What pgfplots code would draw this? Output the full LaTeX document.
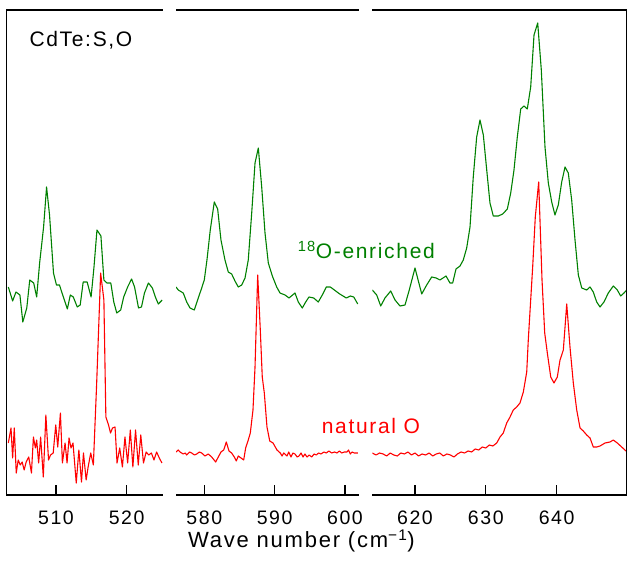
\documentclass[border=0pt]{standalone}
\usepackage{pgfplots}
\pgfplotsset{compat=1.18}
\usepackage{fontspec}
\setmainfont{Liberation Sans}[LetterSpace=8]
\definecolor{cgreen}{rgb}{0.0,0.5,0.0}
\definecolor{cred}{rgb}{1,0,0}
\newcommand\tickfont{\fontsize{19.5}{21}\selectfont}
\pgfplotsset{panel/.style={
  scale only axis, height=485pt, ymin=-1, ymax=484, ytick=\empty,
  anchor=south west, axis line style={draw=none}, clip mode=individual,
  xtick pos=bottom, tick align=inside, major tick length=10pt,
  xtick style={line width=1.2pt, black},
  xticklabel style={font=\tickfont, anchor=base, yshift=-29.5pt, inner sep=0pt},
  /pgf/number format/assume math mode=true,
  /pgf/number format/set thousands separator={},
  every axis plot/.append style={line width=1.1pt, no markers, line join=round},
}}
\begin{document}
\begin{tikzpicture}
\useasboundingbox (-6.7pt,-69pt) rectangle (630.3pt,495pt);
% panel 1
\begin{axis}[panel, at={(0pt,0pt)}, width=156pt, xmin=503.03, xmax=525.1, xtick={510,520}]
\addplot[cgreen] coordinates {(503.26,207) (503.87,193) (504.34,202) (504.90,199) (505.31,172) (505.87,186) (506.29,214) (506.85,211) (507.27,197) (507.69,231) (508.25,267) (508.67,307) (509.09,279) (509.65,221) (510.07,209) (510.49,209) (511.05,197) (511.61,185) (512.03,199) (512.45,197) (513.01,187) (513.43,189) (513.85,212) (514.41,212) (514.97,197) (515.38,227) (515.80,264) (516.36,258) (516.78,214) (517.20,211) (517.76,211) (518.18,192) (518.60,181) (519.16,184) (519.58,197) (520.14,207) (520.70,215) (521.12,207) (521.68,186) (522.10,187) (522.52,201) (523.08,211) (523.64,206) (524.06,197) (524.48,190) (525.03,194)};
\addplot[cred] coordinates {(503.26,51) (503.64,66) (503.87,36) (504.10,66) (504.38,21) (504.66,34) (504.94,29) (505.22,32) (505.50,24) (505.78,32) (506.15,37) (506.53,21) (506.81,57) (507.09,46) (507.27,54) (507.55,31) (507.83,57) (508.21,17) (508.57,79) (508.95,34) (509.23,39) (509.61,41) (509.97,69) (510.25,47) (510.63,81) (510.91,31) (511.29,51) (511.57,31) (511.85,56) (512.13,46) (512.41,51) (512.87,11) (513.24,44) (513.61,12) (513.89,41) (514.27,14) (514.55,27) (514.92,41) (515.29,29) (515.76,111) (516.32,221) (516.78,194) (517.06,77) (517.44,69) (517.72,61) (518.00,66) (518.36,67) (518.64,31) (519.02,46) (519.40,27) (519.76,57) (520.14,31) (520.52,64) (520.88,27) (521.26,64) (521.64,29) (522.00,59) (522.38,31) (522.76,42) (523.12,39) (523.50,41) (523.87,34) (524.24,42) (524.62,36) (524.99,31)};
\draw[line width=1.5pt] (rel axis cs:1,1) -- (rel axis cs:0,1) -- (rel axis cs:0,0) -- (rel axis cs:1,0);
\end{axis}
% panel 2
\begin{axis}[panel, at={(169.3pt,0pt)}, width=183.3pt, xmin=575.98, xmax=602.03, xtick={580,590,600}]
\addplot[cgreen] coordinates {(575.98,207) (576.30,204) (577.01,201) (577.50,192) (577.97,186) (578.58,184) (579.15,196) (579.63,206) (580.00,214) (580.38,234) (580.85,264) (581.42,292) (581.90,285) (582.37,254) (582.94,234) (583.41,222) (583.89,220) (584.36,213) (584.83,207) (585.32,209) (585.79,216) (586.25,234) (586.74,281) (587.21,331) (587.68,346) (588.16,307) (588.63,261) (589.10,231) (589.67,218) (590.29,207) (590.76,201) (591.47,199) (592.04,196) (592.89,201) (593.36,192) (593.93,186) (594.41,192) (594.88,197) (595.55,196) (596.20,192) (596.77,199) (597.34,207) (597.91,207) (598.68,203) (599.25,200) (599.72,198) (600.18,196) (600.75,198) (601.24,197) (601.81,190)};
\addplot[cred] coordinates {(575.98,42) (576.30,44) (576.55,42) (577.01,40) (577.30,41) (577.50,39) (577.90,42) (578.21,41) (578.60,39) (578.92,40) (579.30,42) (579.63,41) (580.10,38) (580.57,40) (581.05,37) (581.62,32) (581.99,37) (582.37,42) (582.76,44) (583.13,52) (583.51,43) (583.89,41) (584.26,37) (584.55,33) (584.83,38) (585.22,36) (585.60,34) (585.88,46) (586.25,54) (586.54,61) (586.92,84) (587.21,127) (587.59,219) (587.96,164) (588.24,117) (588.53,101) (588.91,67) (589.30,53) (589.77,51) (590.33,44) (590.80,41) (591.05,38) (591.29,41) (591.76,38) (592.00,42) (592.32,37) (592.60,41) (592.89,40) (593.20,37) (593.46,38) (593.75,41) (594.03,37) (594.30,40) (594.60,37) (594.90,39) (595.27,37) (595.60,40) (595.92,39) (596.25,41) (596.59,40) (597.00,42) (597.34,41) (597.70,43) (598.11,41) (598.50,42) (598.86,41) (599.20,43) (599.53,41) (599.90,42) (600.28,42) (600.50,44) (600.75,40) (601.00,42) (601.32,41) (601.81,41)};
\draw[line width=1.5pt] (rel axis cs:0,1) -- (rel axis cs:1,1);
\draw[line width=1.5pt] (rel axis cs:0,0) -- (rel axis cs:1,0);
\end{axis}
% panel 3
\begin{axis}[panel, at={(365.6pt,0pt)}, width=254.4pt, xmin=613.97, xmax=649.9, xtick={620,630,640}]
\addplot[cgreen] coordinates {(613.97,204) (614.59,199) (615.16,188) (615.76,196) (616.57,203) (617.18,194) (617.88,188) (618.59,189) (619.19,204) (620.00,226) (620.95,200) (621.65,209) (622.36,217) (622.97,216) (623.53,214) (624.38,218) (624.94,211) (625.32,211) (625.79,225) (626.36,228) (626.82,234) (627.30,246) (627.77,267) (628.23,317) (628.71,357) (629.18,374) (629.65,359) (630.13,324) (630.59,291) (631.06,278) (631.77,278) (632.39,280) (633.04,285) (633.52,301) (633.98,324) (634.45,357) (634.93,385) (635.40,388) (635.86,385) (636.34,407) (636.81,459) (637.33,471) (637.84,424) (638.36,347) (638.83,311) (639.31,292) (639.77,279) (640.24,289) (640.72,312) (641.19,327) (641.65,321) (642.13,294) (642.60,254) (643.07,219) (643.55,206) (644.25,204) (644.72,207) (645.18,202) (645.66,192) (646.13,187) (646.69,192) (647.30,201) (648.01,208) (648.57,204) (649.05,198) (649.52,201) (649.90,204)};
\addplot[cred] coordinates {(613.97,41) (614.5,39) (615.0,41) (615.5,40) (616.0,38) (616.5,41) (617.0,39) (617.5,38) (618.0,41) (618.5,40) (619.0,42) (619.5,39) (620.0,41) (620.5,38) (621.0,40) (621.5,39) (622.0,41) (622.5,38) (623.0,40) (623.5,41) (624.0,38) (624.5,40) (625.0,39) (625.5,37) (626.0,40) (626.5,42) (627.0,41) (627.5,43) (628.0,42) (628.5,45) (629.0,44) (629.5,47) (630.0,46) (630.5,49) (631.0,48) (631.54,51) (632.01,57) (632.47,61) (632.95,71) (633.42,77) (633.88,84) (634.36,87) (634.83,91) (635.30,102) (635.78,122) (636.00,154) (636.34,194) (636.62,227) (636.99,277) (637.47,312) (637.94,214) (638.32,161) (638.69,141) (639.17,117) (639.63,111) (640.10,117) (640.48,134) (640.95,144) (641.43,190) (641.89,147) (642.36,111) (642.84,84) (643.31,66) (643.77,63) (644.25,59) (644.72,56) (645.18,47) (645.66,47) (646.13,48) (646.84,51) (647.54,52) (648.01,54) (648.57,51) (649.19,47) (649.80,43)};
\draw[line width=1.5pt] (rel axis cs:0,1) -- (rel axis cs:1,1) -- (rel axis cs:1,0) -- (rel axis cs:0,0);
\end{axis}
\node[anchor=base west, inner sep=0pt, font=\fontsize{21}{23}\selectfont] at (22.6pt,448pt) {CdTe:S,O};
\node[anchor=base, inner sep=0pt, text=cgreen, font=\fontsize{21}{23}\selectfont] at (359.6pt,236pt) {\textsuperscript{18}O-enriched};
\node[anchor=base, inner sep=0pt, text=cred, font=\fontsize{21}{23}\selectfont] at (364.2pt,61.7pt) {natural O};
\node[anchor=base, inner sep=0pt, font=\fontsize{22}{24}\selectfont] at (294.8pt,-53pt) {Wave number (cm\textsuperscript{−1})};
\end{tikzpicture}
\end{document}
